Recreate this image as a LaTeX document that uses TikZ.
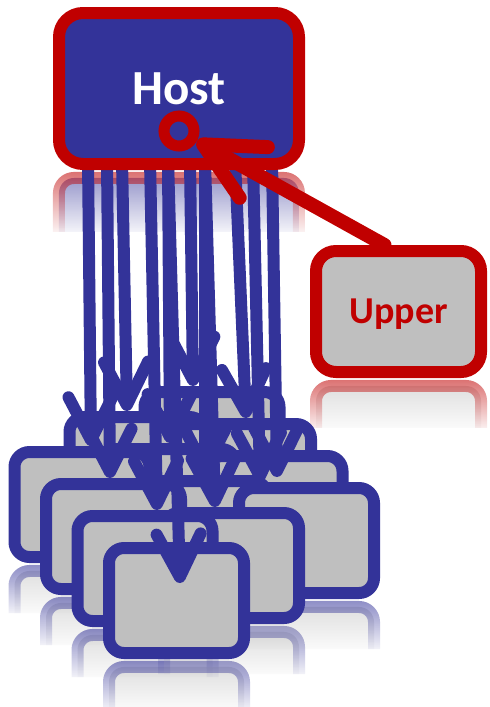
\documentclass[tikz,border=0pt]{standalone}
\usepackage{fontspec}
\setmainfont{Carlito}
\usetikzlibrary{arrows.meta, fadings}

\definecolor{hostblue}{HTML}{333399}
\definecolor{hostred}{HTML}{C00000}
\definecolor{boxgray}{HTML}{BFBFBF}

\tikzfading[name=mirrorfade, top color=transparent!45, middle color=transparent!85, bottom color=transparent!100]

\pgfdeclarelayer{mirror}
\pgfdeclarelayer{boxes}
\pgfdeclarelayer{wires}
\pgfsetlayers{mirror,boxes,wires,main}

\begin{document}
\begin{tikzpicture}[
    x = 1pt, y = -1pt,
    C/.style = {rectangle, rounded corners=15pt, draw=hostblue, fill=boxgray, line width=12pt,
                minimum width=135pt, minimum height=105pt, inner sep=0pt},
    H/.style = {rectangle, rounded corners=24pt, draw=hostred, fill=hostblue, line width=12pt,
                minimum width=240pt, minimum height=151pt, inner sep=0pt, text=white,
                font=\bfseries\fontsize{49}{54}\selectfont},
    U/.style = {rectangle, rounded corners=20pt, draw=hostred, fill=boxgray, line width=12pt,
                minimum width=165pt, minimum height=121pt, inner sep=0pt, text=hostred, text depth=0pt,
                font=\bfseries\fontsize{38}{42}\selectfont},
    P/.style = {circle, draw=hostred, line width=11pt, minimum size=30pt, inner sep=0pt},
    M/.style = {rounded corners=15pt, line width=12pt, path fading=mirrorfade}
    ]
    \useasboundingbox (0,0) rectangle (490,707);
    \node[H] (host) at (179,88.5) {Host};
    \node[P] (port) at (179,131) {};
    \node[U] (upper) at (398.5,311.5) {Upper};

    \begin{pgfonlayer}{boxes}
    \begin{scope}[nodes=C]
        \node (c23) at (212,444.5) {};
        \node (c13) at (137,469.5) {};
        \node (c22) at (243.5,476.5) {};
        \node (c12) at (168.5,501.5) {};
        \node (c03) at (82,504.5) {};
        \node (c21) at (275,508.5) {};
        \node (c11) at (200,533.5) {};
        \node (c02) at (113.5,536.5) {};
        \node (c20) at (306.5,540.5) {};
        \node (c10) at (231.5,565.5) {};
        \node (c01) at (145,568.5) {};
        \node (c00) at (176.5,600.5) {};
    \end{scope}
    \end{pgfonlayer}

    \begin{pgfonlayer}{mirror}
        \fill[white] (0,0) rectangle (490,707);
        \path[M, draw=hostred, fill=hostblue] ([xshift=6pt,yshift=-62pt]host.south west)
            |- ([xshift=-6pt,yshift=-8pt]host.south east) -- ++(0,54);
        \path[M, draw=hostred, fill=boxgray] ([xshift=6pt,yshift=-50pt]upper.south west)
            |- ([xshift=-6pt,yshift=-8pt]upper.south east) -- ++(0,42);
        \path[M, draw=hostblue, fill=boxgray] ([xshift=6pt,yshift=-50pt]c03.south west)
            |- ([xshift=-6pt,yshift=-8pt]c03.south east) -- ++(0,42);
        \path[M, draw=hostblue, fill=boxgray] ([xshift=6pt,yshift=-50pt]c02.south west)
            |- ([xshift=-6pt,yshift=-8pt]c02.south east) -- ++(0,42);
        \path[M, draw=hostblue, fill=boxgray] ([xshift=6pt,yshift=-50pt]c01.south west)
            |- ([xshift=-6pt,yshift=-8pt]c01.south east) -- ++(0,42);
        \path[M, draw=hostblue, fill=boxgray] ([xshift=6pt,yshift=-50pt]c00.south west)
            |- ([xshift=-6pt,yshift=-8pt]c00.south east) -- ++(0,42);
        \path[M, draw=hostblue, fill=boxgray] ([xshift=6pt,yshift=-50pt]c10.south west)
            |- ([xshift=-6pt,yshift=-8pt]c10.south east) -- ++(0,42);
        \path[M, draw=hostblue, fill=boxgray] ([xshift=6pt,yshift=-50pt]c20.south west)
            |- ([xshift=-6pt,yshift=-8pt]c20.south east) -- ++(0,42);
    \end{pgfonlayer}

    \begin{pgfonlayer}{wires}
    \begin{scope}[hostblue, line width=12pt, -{Straight Barb[length=43pt, width=44pt, round]}]
        \draw ([xshift=-91pt,yshift=10pt]host.south) -- ([xshift=9pt]c03.north);
        \draw ([xshift=-72pt,yshift=10pt]host.south) -- ([xshift=-3.5pt]c02.north);
        \draw ([xshift=-57pt,yshift=10pt]host.south) -- ([xshift=-10pt]c13.north);
        \draw ([xshift=-29pt,yshift=10pt]host.south) -- ([xshift=12pt]c01.north);
        \draw ([xshift=-11pt,yshift=10pt]host.south) -- ([xshift=1.5pt]c12.north);
        \draw ([xshift=-11pt,yshift=10pt]host.south) -- ([xshift=3.5pt,yshift=-41pt]c00.north);
        \draw ([xshift=11pt,yshift=10pt]host.south) -- ([xshift=-19pt]c23.north);
        \draw ([xshift=26pt,yshift=10pt]host.south) -- ([xshift=5pt]c11.north);
        \draw ([xshift=26pt,yshift=10pt]host.south) -- ([xshift=-16.5pt]c10.north);
        \draw ([xshift=56pt,yshift=10pt]host.south) -- ([xshift=2.5pt]c22.north);
        \draw ([xshift=74pt,yshift=10pt]host.south) -- ([xshift=-46.5pt]c20.north);
        \draw ([xshift=93pt,yshift=10pt]host.south) -- ([xshift=2pt,yshift=-27pt]c21.north);
    \end{scope}
    \end{pgfonlayer}

    \draw[hostred, line width=14pt, line cap=round, -{Straight Barb[length=58pt, width=58pt, round]}]
        ([xshift=-14pt]upper.north) -- (port);
\end{tikzpicture}
\end{document}
